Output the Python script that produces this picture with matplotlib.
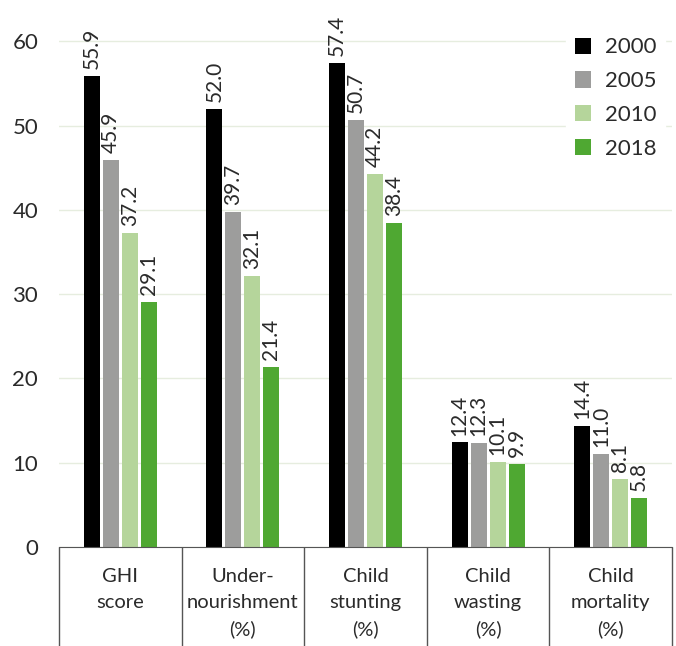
import matplotlib
matplotlib.use("Agg")
import matplotlib.pyplot as plt
import numpy as np

plt.rcParams['font.family'] = ['Lato', 'DejaVu Sans']

# Data
categories = ["GHI\nscore", "Under-\nnourishment\n(%)", "Child\nstunting\n(%)",
              "Child\nwasting\n(%)", "Child\nmortality\n(%)"]
years = ["2000", "2005", "2010", "2018"]
v2000 = [55.9, 52.0, 57.4, 12.4, 14.4]
v2005 = [45.9, 39.7, 50.7, 12.3, 11.0]
v2010 = [37.2, 32.1, 44.2, 10.1, 8.1]
v2018 = [29.1, 21.4, 38.4, 9.9, 5.8]
series = [v2000, v2005, v2010, v2018]
colors = ["#000000", "#9d9d9c", "#b5d59b", "#4fa832"]

fig = plt.figure(figsize=(6.76, 6.46), dpi=100)
ax = fig.add_axes([59/676, 99/646, (672-59)/676, 547/646])

x = np.arange(len(categories))
step = 0.155
for i, (vals, col, yr) in enumerate(zip(series, colors, years)):
    pos = x + (i - 1.5) * step
    ax.bar(pos, vals, width=step * 0.84, color=col, label=yr, zorder=2)
    for p, v in zip(pos, vals):
        ax.annotate(f"{v:.1f}", (p, v), xytext=(0, 5), textcoords="offset points",
                    rotation=90, ha="center", va="bottom", fontsize=15,
                    color="#2a2a2a", annotation_clip=False)

ax.set_xlim(-0.5, len(categories) - 0.5)
ax.set_ylim(0, 64.89)
ax.set_yticks(range(0, 61, 10))
ax.yaxis.grid(True, color="#e6eddf", linewidth=1, zorder=0)
ax.set_axisbelow(True)

for s in ["left", "right", "top"]:
    ax.spines[s].set_visible(False)
ax.spines["bottom"].set_color("#555555")

ax.set_xticks(x)
ax.set_xticklabels(categories, fontsize=14.5, color="#2a2a2a", linespacing=1.62)
ax.set_xticks(np.arange(-0.5, len(categories)), minor=True)
ax.tick_params(axis="x", which="major", length=0, pad=15)
ax.tick_params(axis="x", which="minor", length=72, color="#555555", width=1)
ax.tick_params(axis="y", length=0, pad=15, labelsize=16, labelcolor="#2a2a2a")

leg = ax.legend(loc="upper right", bbox_to_anchor=(1.0, 0.96), frameon=True,
                fontsize=16, handlelength=0.75, handleheight=0.75,
                labelspacing=0.62, handletextpad=0.6, borderaxespad=0.3)
leg.get_frame().set_edgecolor("white")
leg.get_frame().set_facecolor("white")
leg.get_frame().set_alpha(1)
for t in leg.get_texts():
    t.set_color("#2a2a2a")

fig.savefig("out.png", dpi=100)
